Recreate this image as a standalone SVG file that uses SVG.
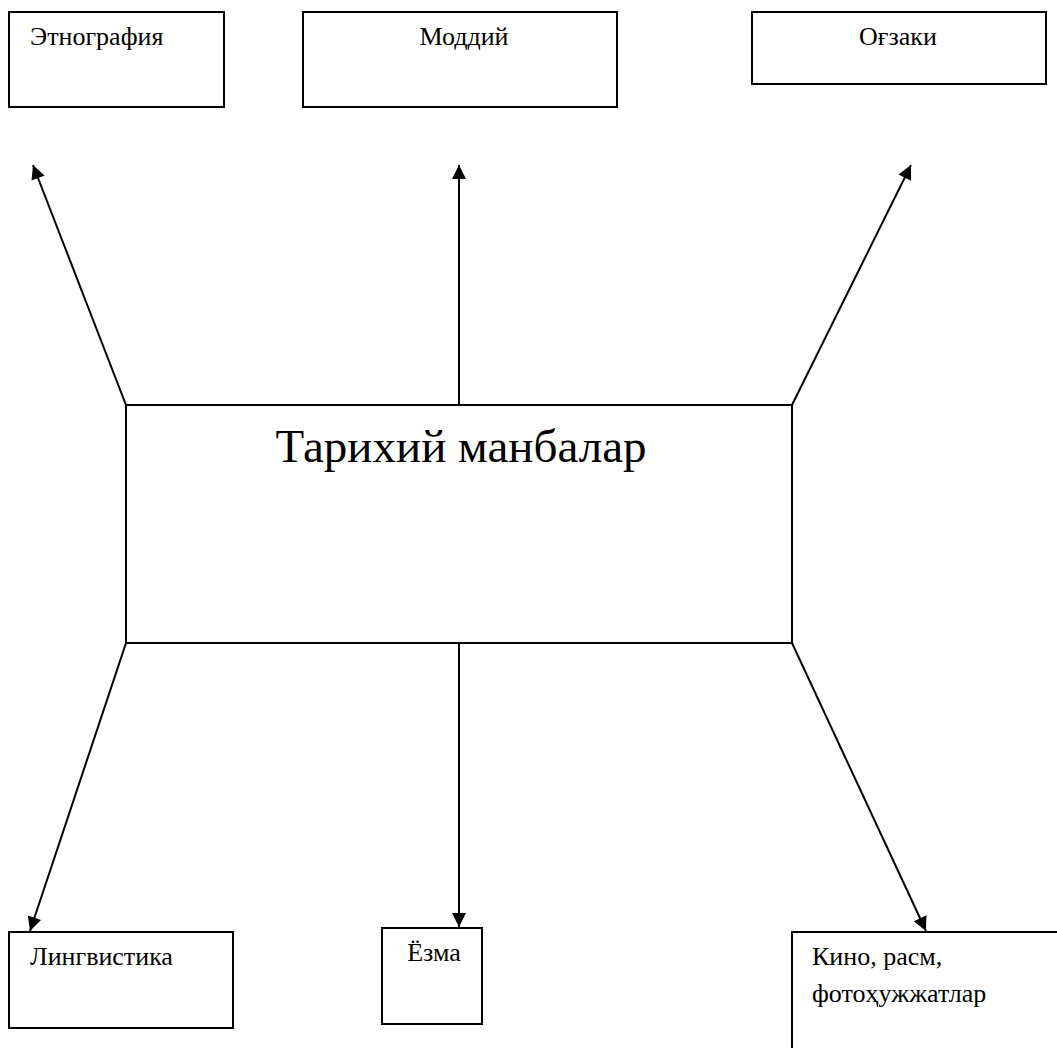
<svg xmlns="http://www.w3.org/2000/svg" width="1057" height="1048" viewBox="0 0 1057 1048">
<style>
.box{fill:#fff;stroke:#000;stroke-width:2}
.t{font-family:'Liberation Serif','Times New Roman','DejaVu Serif',serif;font-size:26px;fill:#000}
.big{font-family:'Liberation Serif','Times New Roman','DejaVu Serif',serif;font-size:47px;fill:#000}
.c{stroke:#000;stroke-width:2;fill:none}
</style>
<defs>
<marker id="ah" viewBox="0 0 10 10" refX="10" refY="5" markerWidth="7.5" markerHeight="7" orient="auto" markerUnits="strokeWidth">
<path d="M0,0 L10,5 L0,10 z" fill="#000"/>
</marker>
</defs>
<rect width="1057" height="1048" fill="#fff"/>
<g id="connectors">
<line class="c" x1="126" y1="405" x2="33" y2="165" marker-end="url(#ah)"/>
<line class="c" x1="459" y1="405" x2="459" y2="165" marker-end="url(#ah)"/>
<line class="c" x1="792" y1="405" x2="911" y2="165" marker-end="url(#ah)"/>
<line class="c" x1="126" y1="643" x2="30" y2="931" marker-end="url(#ah)"/>
<line class="c" x1="459" y1="643" x2="459" y2="927" marker-end="url(#ah)"/>
<line class="c" x1="792" y1="643" x2="926" y2="931" marker-end="url(#ah)"/>
</g>
<g id="node-etnografiya">
<rect class="box" x="9" y="12" width="215" height="95"/>
<text class="t" x="30" y="45">Этнография</text>
</g>
<g id="node-moddiy">
<rect class="box" x="303" y="12" width="314" height="95"/>
<text class="t" x="464" y="45" text-anchor="middle">Моддий</text>
</g>
<g id="node-ogzaki">
<rect class="box" x="752" y="12" width="294" height="72"/>
<text class="t" x="898" y="45" text-anchor="middle">Оғзаки</text>
</g>
<g id="node-main">
<rect class="box" x="126" y="405" width="666" height="238"/>
<text class="big" x="461" y="462" text-anchor="middle">Тарихий манбалар</text>
</g>
<g id="node-lingvistika">
<rect class="box" x="9" y="932" width="224" height="96"/>
<text class="t" x="30" y="965">Лингвистика</text>
</g>
<g id="node-ezma">
<rect class="box" x="382" y="928" width="100" height="96"/>
<text class="t" x="434" y="961" text-anchor="middle">Ёзма</text>
</g>
<g id="node-kino">
<rect class="box" x="792" y="932" width="275" height="130"/>
<text class="t" x="812" y="965">Кино, расм,</text>
<text class="t" x="812" y="1002">фотоҳужжатлар</text>
</g>
</svg>
